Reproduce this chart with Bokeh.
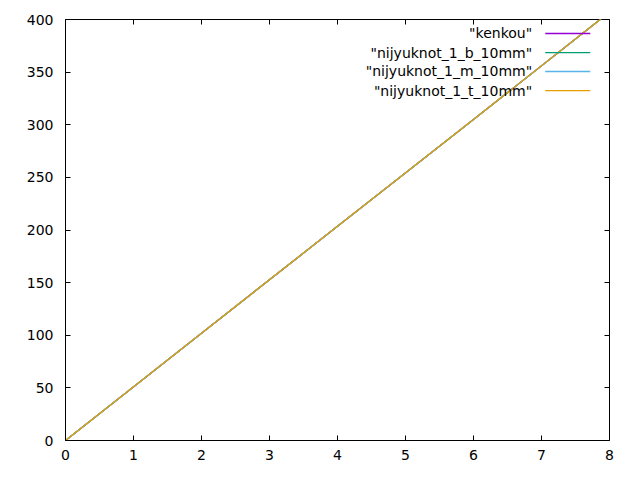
from bokeh.plotting import figure
from bokeh.models import LinearAxis, Range1d, Label, FixedTicker
from bokeh.embed import file_html
from bokeh.resources import INLINE

# data
series_names = ['"kenkou"', '"nijyuknot_1_b_10mm"', '"nijyuknot_1_m_10mm"', '"nijyuknot_1_t_10mm"']
colors = ["#9400d3", "#009e73", "#56b4e9", "#e69f00"]
x_kenkou = [0, 2, 4, 6, 8]
y_kenkou = [0, 102, 203.5, 305, 407]
x_b = [0, 2, 4, 6, 8]
y_b = [0, 102, 203.5, 305, 407]
x_m = [0, 2, 4, 6, 8]
y_m = [0, 102, 203.5, 305, 407]
x_t = [0, 2, 4, 6, 8]
y_t = [0, 102, 203.5, 305, 407]
x_ticks = [0, 1, 2, 3, 4, 5, 6, 7, 8]
y_ticks = [0, 50, 100, 150, 200, 250, 300, 350, 400]

FONT = "DejaVu Sans"
FS = "14px"

p = figure(frame_width=544, frame_height=421, output_backend="svg", toolbar_location=None,
           x_range=Range1d(0, 8), y_range=Range1d(0, 400),
           min_border_left=65, min_border_right=23, min_border_top=19, min_border_bottom=32)
p.xgrid.visible = False
p.ygrid.visible = False
p.outline_line_color = "black"
p.outline_line_width = 1
p.background_fill_color = "white"
p.border_fill_color = "white"

def style(ax, ticks, show_labels):
    ax.ticker = FixedTicker(ticks=ticks)
    ax.major_tick_in = 5
    ax.major_tick_out = 0
    ax.minor_tick_line_color = None
    ax.major_tick_line_color = "black"
    ax.axis_line_color = None
    ax.major_label_text_font = FONT
    ax.major_label_text_color = "black"
    ax.major_label_text_font_size = FS
    if not show_labels:
        ax.major_label_text_color = None
        ax.major_label_text_alpha = 0
        ax.major_label_standoff = 0

style(p.xaxis[0], x_ticks, True)
style(p.yaxis[0], y_ticks, True)
p.xaxis[0].major_label_standoff = 9
p.yaxis[0].major_label_standoff = 12

ax_r = LinearAxis()
style(ax_r, y_ticks, False)
p.add_layout(ax_r, "right")
ax_t = LinearAxis()
style(ax_t, x_ticks, False)
p.add_layout(ax_t, "above")

xs = [x_kenkou, x_b, x_m, x_t]
ys = [y_kenkou, y_b, y_m, y_t]
for xx, yy, c in zip(xs, ys, colors):
    p.line(xx, yy, line_color=c, line_width=1.3)

# gnuplot-style key: text right-aligned, sample line to the right
row_y = [386.7, 368.6, 350.6, 332.5]
for name, c, ry in zip(series_names, colors, row_y):
    p.add_layout(Label(x=6.862, y=ry, text=name, text_align="right", text_baseline="middle",
                       text_font=FONT, text_font_size=FS, text_color="black"))
    p.line([7.055, 7.717], [ry, ry], line_color=c, line_width=1.3)

open("out.html", "w").write(file_html(p, INLINE))
